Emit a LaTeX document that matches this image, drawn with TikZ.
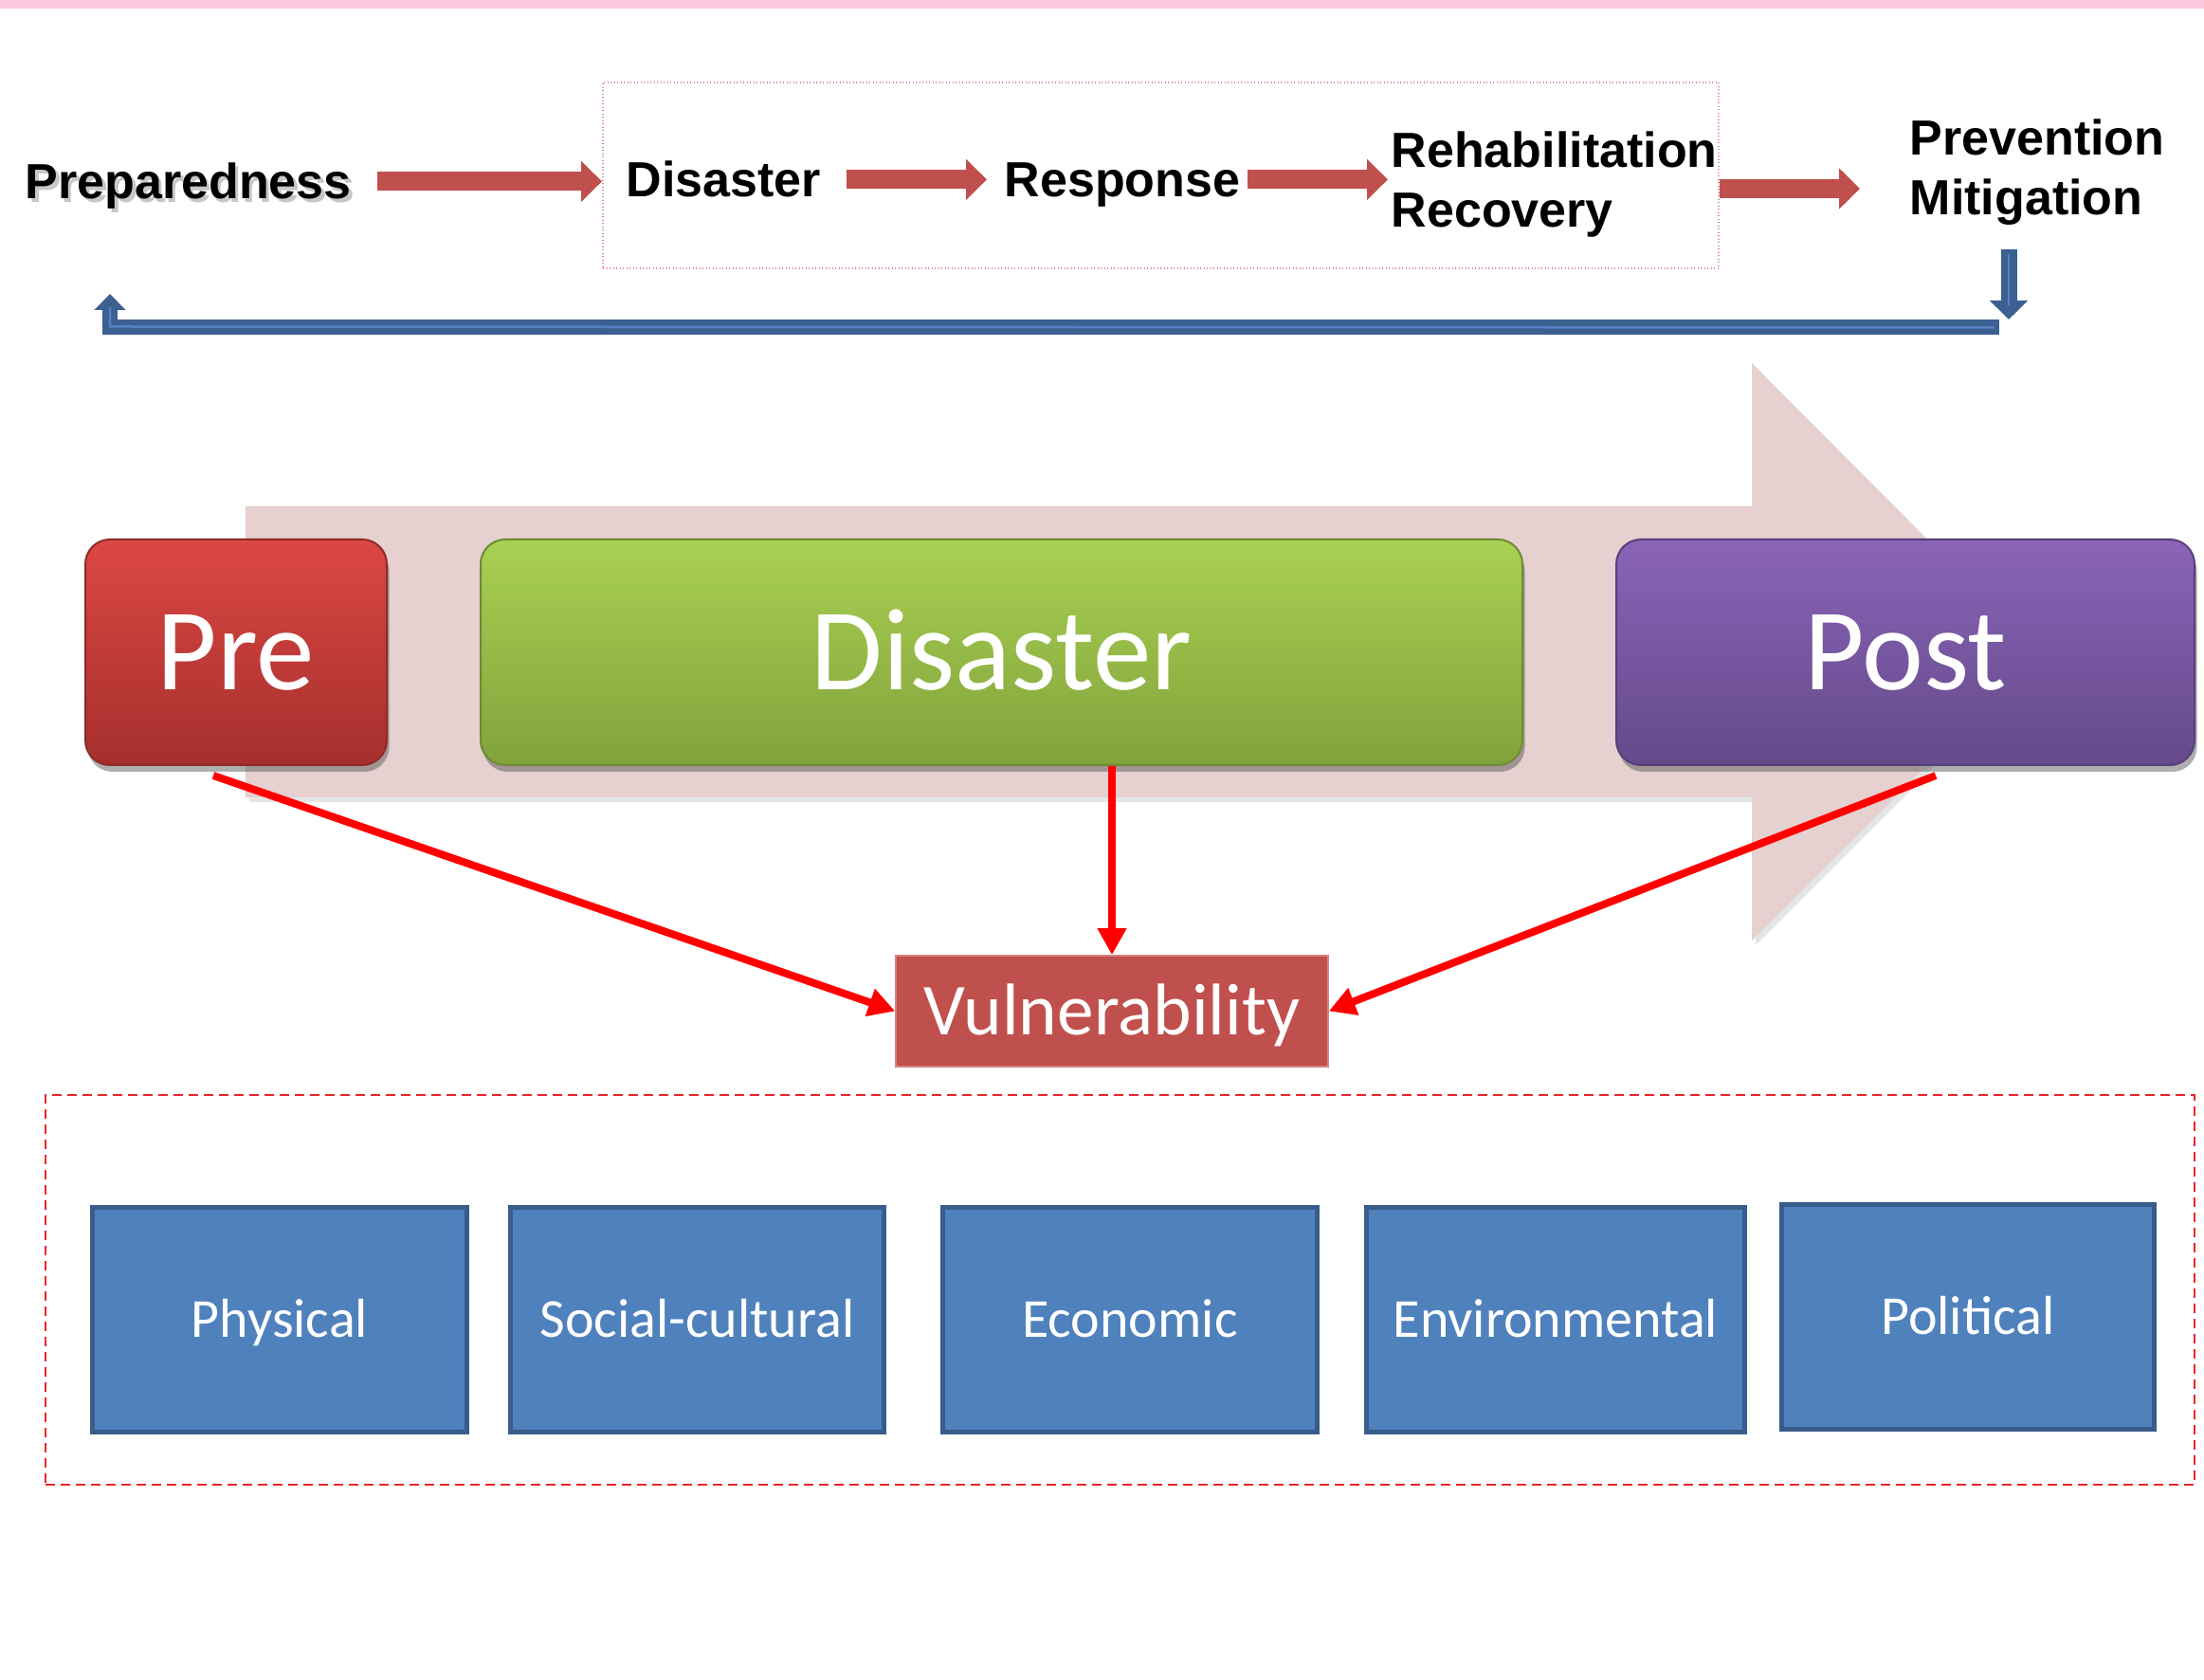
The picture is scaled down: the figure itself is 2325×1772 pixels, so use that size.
\documentclass[tikz,border=0pt]{standalone}
\usepackage{fontspec}
\setmainfont{Liberation Sans}
\newfontfamily\calfont{Carlito}
\usetikzlibrary{arrows.meta,shadows}
\definecolor{titlepink}{HTML}{F9C8DE}
\definecolor{arrowred}{HTML}{C0504D}
\definecolor{dotpink}{HTML}{D98A94}
\definecolor{bluedark}{HTML}{3B6091}
\definecolor{bluelight}{HTML}{5581BE}
\definecolor{bigpink}{HTML}{E6D0D0}
\definecolor{pretop}{HTML}{DC4843}
\definecolor{prebot}{HTML}{A52F2D}
\definecolor{preedge}{HTML}{8E2A28}
\definecolor{distop}{HTML}{A9D152}
\definecolor{disbot}{HTML}{82A23C}
\definecolor{disedge}{HTML}{6E8B33}
\definecolor{posttop}{HTML}{8A64B8}
\definecolor{postbot}{HTML}{654A8A}
\definecolor{postedge}{HTML}{56407A}
\definecolor{vulfill}{HTML}{C0504D}
\definecolor{catfill}{HTML}{4F81BD}
\definecolor{catedge}{HTML}{385D8A}
\definecolor{dashred}{HTML}{E8262B}
\begin{document}
\begin{tikzpicture}[x=0.1mm,y=-0.1mm,
  toptext/.style={inner sep=0pt, font=\bfseries\fontsize{14.8}{18}\selectfont},
  toptextfix/.style={toptext, text height=10.6pt, text depth=0pt},
  redblock/.style={draw=arrowred, line width=2mm, -{Triangle[width=4.2mm,length=2.2mm]}},
  bluebar/.style={draw=bluedark, line width=1.6mm, line join=miter},
  stripe/.style={draw=bluelight, line width=0.25mm},
  phasebox/.style={draw=white!20!black, rounded corners=2.6mm, line width=0.2mm, text=white,
    font=\calfont\fontsize{35}{40}\selectfont, text height=22.5pt, text depth=0pt, inner sep=0pt,
    minimum height=23.8mm,
    drop shadow={shadow xshift=0.25mm, shadow yshift=-0.7mm, opacity=0.45, fill=black!70}},
  redconn/.style={draw=red, line width=0.8mm, -{Triangle[width=2.9mm,length=2.8mm]}},
  catbox/.style={draw=catedge, line width=0.5mm, fill=catfill, text=white, inner sep=0pt,
    font=\calfont\fontsize{16.5}{19}\selectfont, text height=10.6pt, text depth=0pt,
    minimum height=23.7mm}]
\useasboundingbox (0,0) rectangle (2325,1772);
\fill[white] (0,0) rectangle (2325,1772);
% title band
\fill[titlepink] (0,0) rectangle (2325,9);

% top row
\node[draw=dotpink, line width=0.15mm, dash pattern=on 0.1mm off 0.25mm, minimum width=117.7mm, minimum height=19.6mm, inner sep=0pt] (phase) at (1224.5,185) {};
\node[toptextfix, anchor=base west, text=black!22] (prepsh) at (29.5,213.5) {Preparedness};
\node[toptextfix, anchor=base west] (prep) at (26,210) {Preparedness};
\node[toptextfix, anchor=base west] (dis1) at (660,208) {Disaster};
\node[toptextfix, anchor=base west] (resp) at (1059,208) {Response};
\node[toptext, anchor=base west, align=left] (rehab) at (1467,240) {Rehabilitation\\Recovery};
\node[toptext, anchor=base west, align=left] (prev) at (2014,227) {Prevention\\Mitigation};

\draw[redblock, shorten <=2.7mm, shorten >=2.5mm] (prep.east) -- (prep.east -| dis1.west);
\draw[redblock, shorten <=2.6mm, shorten >=1.8mm] (dis1.east) -- (dis1.east -| resp.west);
\draw[redblock, shorten <=0.7mm, shorten >=0.3mm] (resp.east) -- (resp.east -| rehab.west);
\coordinate (r4s) at (1814,199);
\coordinate (r4e) at (1962,199);
\draw[redblock] (r4s) -- (r4e);

% feedback connector
\coordinate (fbR) at (2109,345.5);
\coordinate (fbL) at (116,345.5);
\coordinate (fbT) at (116,310);
\coordinate (fdT) at (2119,263);
\coordinate (fdB) at (2119,337);
\draw[bluebar, -{Triangle[width=3.2mm,length=1.7mm]}] (fbR) -- (fbL) -- (fbT);
\draw[stripe] ([xshift=-0.5mm]fbR) -- ([yshift=0.1mm]fbL) -- (116,324);
\draw[bluebar, line width=1.7mm, -{Triangle[width=3.9mm,length=2mm]}] (fdT) -- (fdB);
\draw[stripe] (2119,268) -- (2119,322);

% big background arrow
\fill[black!20, opacity=0.5] (263,539) -- (1852,539) -- (1852,388) -- (2156,693) -- (1852,997) -- (1852,846) -- (263,846) -- cycle;
\fill[bigpink] (259,534) -- (1848,534) -- (1848,383) -- (2152,688) -- (1848,992) -- (1848,841) -- (259,841) -- cycle;

% phase boxes
\node[phasebox, top color=pretop, bottom color=prebot, draw=preedge, minimum width=31.8mm] (pre) at (249,688) {Pre};
\node[phasebox, top color=distop, bottom color=disbot, draw=disedge, minimum width=109.9mm] (dis) at (1056.5,688) {Disaster};
\node[phasebox, top color=posttop, bottom color=postbot, draw=postedge, minimum width=61mm] (post) at (2010,688) {Post};

% vulnerability
\node[fill=vulfill, draw=vulfill!70!white, line width=0.15mm, text=white, inner sep=0pt,
  font=\calfont\fontsize{22}{26}\selectfont, text height=14.2pt, text depth=0pt,
  minimum width=45.6mm, minimum height=11.7mm] (vul) at (1173,1066.5) {Vulnerability};

\draw[redconn] ([xshift=-2.4mm,yshift=-1mm]pre.south) -- (vul.west);
\draw[redconn] (vul.north |- dis.south) -- (vul.north);
\draw[redconn] ([xshift=3.2mm,yshift=-1mm]post.south) -- (vul.east);

% categories
\node[draw=dashred, line width=0.2mm, dash pattern=on 1mm off 0.6mm, minimum width=226.7mm, minimum height=41.1mm, inner sep=0pt] (group) at (1181.5,1360.5) {};
\node[catbox, minimum width=39.5mm] (phys) at (295,1391.5) {Physical};
\node[catbox, minimum width=39.4mm] (soc) at (735.5,1391.5) {Social-cultural};
\node[catbox, minimum width=39.5mm] (eco) at (1192,1391.5) {Economic};
\node[catbox, minimum width=39.9mm] (env) at (1641,1391.5) {Environmental};
\node[catbox, minimum width=39.3mm] (pol) at (2076,1388.5) {Political};
\end{tikzpicture}
\end{document}
